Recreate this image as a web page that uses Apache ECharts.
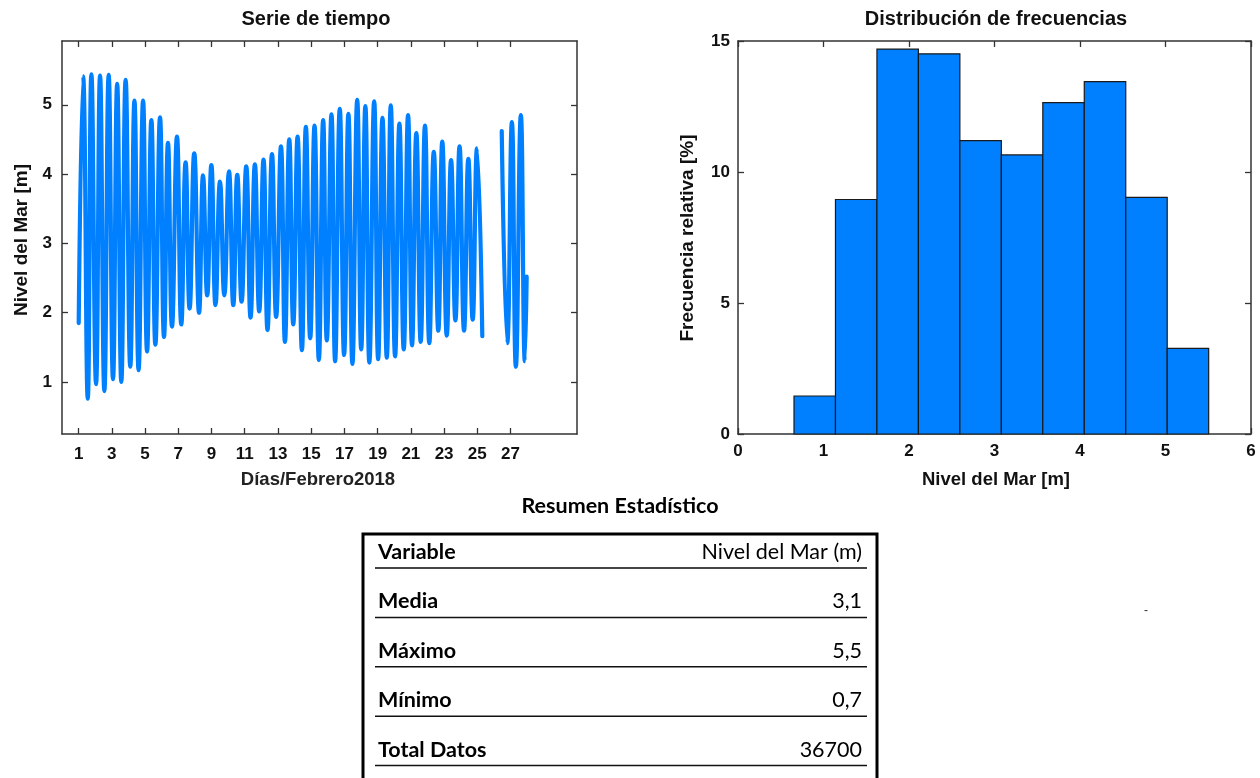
<!DOCTYPE html>
<html>
<head>
<meta charset="utf-8">
<script src="https://cdn.jsdelivr.net/npm/echarts@6/dist/echarts.min.js"></script>
<style>
  html, body { margin: 0; padding: 0; background: #ffffff; }
  #chart { width: 1260px; height: 778px; }
</style>
</head>
<body>
<div id="chart"></div>
<script>
// Successive tidal highs and lows, February 2018 (day of month, sea level in m)
const tideDaysA = [1.006, 1.27, 1.55, 1.77, 2.05, 2.29, 2.55, 2.81, 3.07, 3.32,
  3.57, 3.83, 4.11, 4.36, 4.61, 4.88, 5.12, 5.38, 5.62, 5.90,
  6.14, 6.38, 6.62, 6.92, 7.18, 7.44, 7.68, 7.96, 8.25, 8.49,
  8.74, 8.99, 9.24, 9.51, 9.77, 10.05, 10.31, 10.55, 10.81, 11.09,
  11.35, 11.61, 11.87, 12.13, 12.37, 12.64, 12.89, 13.18, 13.42, 13.68,
  13.92, 14.18, 14.44, 14.68, 14.94, 15.20, 15.46, 15.72, 15.94, 16.22,
  16.44, 16.72, 16.98, 17.24, 17.48, 17.77, 18.01, 18.26, 18.50, 18.79,
  19.03, 19.29, 19.55, 19.79, 20.05, 20.31, 20.57, 20.83, 21.07, 21.33,
  21.59, 21.85, 22.11, 22.38, 22.65, 22.89, 23.16, 23.42, 23.68, 23.93,
  24.20, 24.46, 24.72, 24.98, 25.30];
const tideLevelsA = [1.85, 5.41, 0.76, 5.44, 0.97, 5.42, 0.87, 5.43, 1.04, 5.30,
  1.00, 5.36, 1.22, 5.06, 1.17, 5.06, 1.44, 4.78, 1.54, 4.82,
  1.65, 4.45, 1.80, 4.54, 1.83, 4.17, 2.06, 4.30, 2.00, 3.98,
  2.25, 4.13, 2.11, 3.89, 2.25, 4.04, 2.11, 3.99, 2.16, 4.11,
  1.93, 4.14, 2.02, 4.21, 1.75, 4.29, 1.94, 4.40, 1.58, 4.50,
  1.83, 4.54, 1.46, 4.68, 1.63, 4.70, 1.32, 4.78, 1.60, 4.86,
  1.30, 4.94, 1.39, 4.87, 1.26, 5.07, 1.47, 4.98, 1.28, 5.05,
  1.33, 4.81, 1.35, 4.99, 1.37, 4.73, 1.47, 4.85, 1.53, 4.59,
  1.58, 4.70, 1.56, 4.32, 1.74, 4.47, 1.67, 4.20, 1.89, 4.40,
  1.74, 4.22, 1.90, 4.37, 1.66];
// Record resumes after the gap
const tideDaysB = [26.47, 26.80, 27.08, 27.32, 27.62, 27.86, 27.97];
const tideLevelsB = [4.62, 1.56, 4.75, 1.22, 4.85, 1.30, 2.52];

// Day labels on the time axis
const dayTicks = [1, 3, 5, 7, 9, 11, 13, 15, 17, 19, 21, 23, 25, 27];
const levelTicks = [1, 2, 3, 4, 5];

// Histogram: bin edges (m) and relative frequency (%)
const binEdges = [0.655, 1.14, 1.625, 2.11, 2.595, 3.08, 3.565, 4.05, 4.535, 5.02, 5.505];
const binFreq = [1.45, 8.95, 14.69, 14.51, 11.2, 10.65, 12.65, 13.45, 9.03, 3.27];

// Summary table
const statLabels = ['Variable', 'Media', 'Máximo', 'Mínimo', 'Total Datos'];
const statValues = ['Nivel del Mar (m)', '3,1', '5,5', '0,7', '36700'];

const BLUE = '#0080ff';
const AXIS = '#333333';
const FONT = '"Liberation Sans", Arial, sans-serif';
const TFONT = 'Lato, "Open Sans", sans-serif';

const chart = echarts.init(document.getElementById('chart'), null, { renderer: 'canvas' });

function pairs(xs, ys) { return xs.map((x, i) => [x, ys[i]]); }

const labelStyle = { fontFamily: FONT, fontWeight: 'bold', fontSize: 17, color: '#111' };

function frameAxis(base) {
  return Object.assign({
    type: 'value',
    axisLine: { show: true, onZero: false, lineStyle: { color: AXIS, width: 1.5 } },
    axisTick: { show: true, inside: true, length: 6, lineStyle: { color: AXIS, width: 1.3 } },
    splitLine: { show: false }
  }, base);
}

const grids = [
  { left: 62, top: 41, width: 515, height: 393 },
  { left: 738, top: 41, width: 513, height: 393 }
];

const xAxes = [
  frameAxis({ gridIndex: 0, position: 'bottom', min: 0, max: 31,
    axisTick: { show: true, inside: true, length: 6, customValues: dayTicks, lineStyle: { color: AXIS, width: 1.3 } },
    axisLabel: Object.assign({ margin: 12, customValues: dayTicks }, labelStyle) }),
  frameAxis({ gridIndex: 0, position: 'top', min: 0, max: 31,
    axisTick: { show: true, inside: true, length: 6, customValues: dayTicks, lineStyle: { color: AXIS, width: 1.3 } },
    axisLabel: { show: false } }),
  frameAxis({ gridIndex: 1, position: 'bottom', min: 0, max: 6, interval: 1,
    axisLabel: Object.assign({ margin: 9 }, labelStyle) }),
  frameAxis({ gridIndex: 1, position: 'top', min: 0, max: 6, interval: 1,
    axisLabel: { show: false } })
];

const yAxes = [
  frameAxis({ gridIndex: 0, position: 'left', min: 0.25, max: 5.92,
    axisTick: { show: true, inside: true, length: 6, customValues: levelTicks, lineStyle: { color: AXIS, width: 1.3 } },
    axisLabel: Object.assign({ margin: 10, customValues: levelTicks }, labelStyle) }),
  frameAxis({ gridIndex: 0, position: 'right', min: 0.25, max: 5.92,
    axisTick: { show: true, inside: true, length: 6, customValues: levelTicks, lineStyle: { color: AXIS, width: 1.3 } },
    axisLabel: { show: false } }),
  frameAxis({ gridIndex: 1, position: 'left', min: 0, max: 15, interval: 5,
    axisLabel: Object.assign({ margin: 8 }, labelStyle) }),
  frameAxis({ gridIndex: 1, position: 'right', min: 0, max: 15, interval: 5,
    axisLabel: { show: false } })
];

const lineCommon = {
  type: 'line', xAxisIndex: 0, yAxisIndex: 0,
  showSymbol: false, smooth: 0.5, clip: true,
  lineStyle: { color: BLUE, width: 4.2, cap: 'round', join: 'round' }
};

const series = [
  Object.assign({ data: pairs(tideDaysA, tideLevelsA) }, lineCommon),
  Object.assign({ data: pairs(tideDaysB, tideLevelsB) }, lineCommon),
  {
    type: 'custom', xAxisIndex: 2, yAxisIndex: 2,
    data: binFreq.map((f, i) => [binEdges[i], binEdges[i + 1], f]),
    encode: { x: [0, 1], y: 2 },
    renderItem: function (params, api) {
      const tl = api.coord([api.value(0), api.value(2)]);
      const br = api.coord([api.value(1), 0]);
      return {
        type: 'rect',
        shape: { x: tl[0], y: tl[1], width: br[0] - tl[0], height: br[1] - tl[1] },
        style: { fill: BLUE, stroke: '#1a1a1a', lineWidth: 1.2 }
      };
    }
  }
];

// Titles, axis names and the summary table
const graphics = [];
function txt(text, x, y, opts) {
  graphics.push({
    type: 'text', x: x, y: y, rotation: (opts && opts.rotation) || 0,
    style: Object.assign({
      text: text, fontFamily: FONT, fontWeight: 'bold', fontSize: 17,
      fill: '#111', textAlign: 'center', textVerticalAlign: 'middle'
    }, (opts && opts.style) || {})
  });
}
txt('Serie de tiempo', 316, 19, { style: { fontSize: 20 } });
txt('Distribución de frecuencias', 996, 19, { style: { fontSize: 20 } });
txt('Nivel del Mar [m]', 22, 240, { rotation: Math.PI / 2, style: { fontSize: 19 } });
txt('Días/Febrero2018', 318, 480, { style: { fontSize: 18.5, fill: '#222' } });
txt('Frecuencia relativa [%]', 688, 238, { rotation: Math.PI / 2, style: { fontSize: 19 } });
txt('Nivel del Mar [m]', 996, 480, { style: { fontSize: 18.5 } });

txt('Resumen Estadístico', 620, 506, { style: { fontFamily: TFONT, fontSize: 21.5, fill: '#000' } });

graphics.push({
  type: 'rect', shape: { x: 363, y: 534, width: 514, height: 270 },
  style: { fill: 'none', stroke: '#000', lineWidth: 3 }
});
statLabels.forEach((label, i) => {
  const base = 561 + i * 49.4;
  graphics.push({
    type: 'line', shape: { x1: 375, y1: base + 7, x2: 867, y2: base + 7 },
    style: { stroke: i === 0 ? '#444' : '#111', lineWidth: i === 0 ? 2 : 1.5 }
  });
  graphics.push({
    type: 'text', x: 378, y: base + 2,
    style: { text: label, fontFamily: TFONT, fontWeight: 'bold', fontSize: 21.5, fill: '#000',
      textAlign: 'left', textVerticalAlign: 'bottom' }
  });
  graphics.push({
    type: 'text', x: 862, y: base + 2,
    style: { text: statValues[i], fontFamily: TFONT, fontWeight: 'normal', fontSize: 21.5, fill: '#000',
      textAlign: 'right', textVerticalAlign: 'bottom' }
  });
});
// small mark to the right of the table
graphics.push({
  type: 'text', x: 1146, y: 611,
  style: { text: '-', fontFamily: FONT, fontSize: 12, fill: '#333', textAlign: 'center', textVerticalAlign: 'middle' }
});

chart.setOption({
  animation: false,
  backgroundColor: '#ffffff',
  grid: grids,
  xAxis: xAxes,
  yAxis: yAxes,
  series: series,
  graphic: graphics
});
</script>
</body>
</html>
